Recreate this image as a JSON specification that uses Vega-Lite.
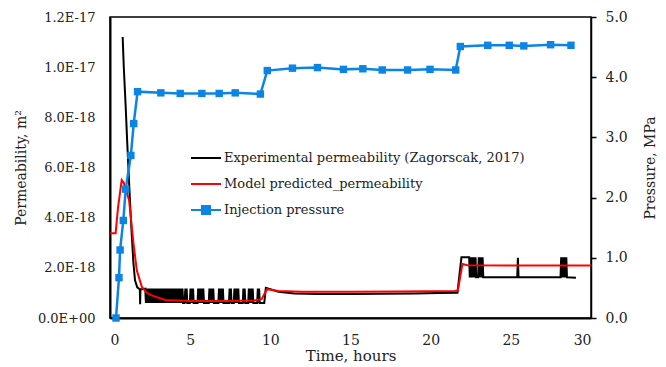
{
  "$schema": "https://vega.github.io/schema/vega-lite/v6.json",
  "width": 481,
  "height": 301,
  "autosize": {"type": "none"},
  "padding": {"left": 110, "top": 17, "right": 75, "bottom": 49},
  "background": "white",
  "config": {
    "font": "DejaVu Serif",
    "view": {"stroke": "#000000", "strokeWidth": 1.5},
    "axis": {
      "grid": false,
      "labelFont": "DejaVu Serif",
      "titleFont": "DejaVu Serif",
      "titleFontWeight": "normal",
      "labelColor": "#222222",
      "titleColor": "#222222",
      "domainColor": "#000000"
    }
  },
  "datasets": {
    "experimental": [
      {"t": 0.79, "k": 1.12e-17}, {"t": 0.86, "k": 1.0e-17}, {"t": 0.98, "k": 8.4e-18}, {"t": 1.06, "k": 7.2e-18},
      {"t": 1.14, "k": 6.1e-18}, {"t": 1.25, "k": 4.6e-18}, {"t": 1.35, "k": 3.4e-18}, {"t": 1.46, "k": 2.2e-18},
      {"t": 1.56, "k": 1.5e-18}, {"t": 1.7, "k": 1.22e-18}, {"t": 1.8, "k": 1.17e-18}, {"t": 1.86, "k": 1.15e-18},
      {"t": 1.88, "k": 5.5e-19}, {"t": 1.9, "k": 1.15e-18}, {"t": 2.0, "k": 1.15e-18}, {"t": 2.1, "k": 1.16e-18},
      {"t": 2.2, "k": 1.17e-18}, {"t": 2.24, "k": 6.0e-19}, {"t": 2.28, "k": 1.17e-18}, {"t": 2.32, "k": 6.0e-19},
      {"t": 2.36, "k": 1.17e-18}, {"t": 2.4, "k": 6.0e-19}, {"t": 2.44, "k": 1.17e-18}, {"t": 2.48, "k": 6.0e-19},
      {"t": 2.52, "k": 1.17e-18}, {"t": 2.56, "k": 6.0e-19}, {"t": 2.6, "k": 1.17e-18}, {"t": 2.64, "k": 6.0e-19},
      {"t": 2.68, "k": 1.17e-18}, {"t": 2.72, "k": 6.0e-19}, {"t": 2.76, "k": 1.17e-18}, {"t": 2.8, "k": 6.0e-19},
      {"t": 2.84, "k": 1.17e-18}, {"t": 2.88, "k": 6.0e-19}, {"t": 2.92, "k": 1.17e-18}, {"t": 2.96, "k": 6.0e-19},
      {"t": 3.0, "k": 1.17e-18}, {"t": 3.04, "k": 6.0e-19}, {"t": 3.08, "k": 1.17e-18}, {"t": 3.12, "k": 6.0e-19},
      {"t": 3.16, "k": 1.17e-18}, {"t": 3.2, "k": 6.0e-19}, {"t": 3.24, "k": 1.17e-18}, {"t": 3.28, "k": 6.0e-19},
      {"t": 3.32, "k": 1.17e-18}, {"t": 3.36, "k": 6.0e-19}, {"t": 3.4, "k": 1.17e-18}, {"t": 3.44, "k": 6.0e-19},
      {"t": 3.48, "k": 1.17e-18}, {"t": 3.52, "k": 6.0e-19}, {"t": 3.56, "k": 1.17e-18}, {"t": 3.6, "k": 6.0e-19},
      {"t": 3.64, "k": 1.17e-18}, {"t": 3.68, "k": 6.0e-19}, {"t": 3.72, "k": 1.17e-18}, {"t": 3.76, "k": 6.0e-19},
      {"t": 3.8, "k": 1.17e-18}, {"t": 3.84, "k": 6.0e-19}, {"t": 3.88, "k": 1.17e-18}, {"t": 3.92, "k": 6.0e-19},
      {"t": 3.96, "k": 1.17e-18}, {"t": 4.0, "k": 6.0e-19}, {"t": 4.04, "k": 1.17e-18}, {"t": 4.08, "k": 6.0e-19},
      {"t": 4.12, "k": 1.17e-18}, {"t": 4.16, "k": 6.0e-19}, {"t": 4.2, "k": 1.17e-18}, {"t": 4.24, "k": 6.0e-19},
      {"t": 4.28, "k": 1.17e-18}, {"t": 4.32, "k": 6.0e-19}, {"t": 4.36, "k": 1.17e-18}, {"t": 4.4, "k": 6.0e-19},
      {"t": 4.44, "k": 1.17e-18}, {"t": 4.48, "k": 6.0e-19}, {"t": 4.52, "k": 1.17e-18}, {"t": 4.56, "k": 6.0e-19},
      {"t": 4.65, "k": 6.0e-19}, {"t": 4.7, "k": 1.17e-18}, {"t": 4.74, "k": 6.0e-19}, {"t": 4.78, "k": 1.17e-18},
      {"t": 4.82, "k": 6.0e-19}, {"t": 4.98, "k": 6.0e-19}, {"t": 5.02, "k": 1.17e-18}, {"t": 5.06, "k": 6.0e-19},
      {"t": 5.1, "k": 1.17e-18}, {"t": 5.14, "k": 6.0e-19}, {"t": 5.18, "k": 1.17e-18}, {"t": 5.22, "k": 6.0e-19},
      {"t": 5.46, "k": 6.0e-19}, {"t": 5.5, "k": 1.17e-18}, {"t": 5.54, "k": 6.0e-19}, {"t": 5.58, "k": 1.17e-18},
      {"t": 5.62, "k": 6.0e-19}, {"t": 5.66, "k": 1.17e-18}, {"t": 5.7, "k": 6.0e-19}, {"t": 5.74, "k": 1.17e-18},
      {"t": 5.78, "k": 6.0e-19}, {"t": 5.82, "k": 1.17e-18}, {"t": 5.86, "k": 6.0e-19}, {"t": 6.16, "k": 6.0e-19},
      {"t": 6.2, "k": 1.17e-18}, {"t": 6.24, "k": 6.0e-19}, {"t": 6.28, "k": 1.17e-18}, {"t": 6.32, "k": 6.0e-19},
      {"t": 6.36, "k": 1.17e-18}, {"t": 6.4, "k": 6.0e-19}, {"t": 6.44, "k": 1.17e-18}, {"t": 6.48, "k": 6.0e-19},
      {"t": 6.76, "k": 6.0e-19}, {"t": 6.8, "k": 1.17e-18}, {"t": 6.84, "k": 6.0e-19}, {"t": 6.88, "k": 1.17e-18},
      {"t": 6.92, "k": 6.0e-19}, {"t": 6.96, "k": 1.17e-18}, {"t": 7.0, "k": 6.0e-19}, {"t": 7.04, "k": 1.17e-18},
      {"t": 7.08, "k": 6.0e-19}, {"t": 7.42, "k": 6.0e-19}, {"t": 7.46, "k": 1.17e-18}, {"t": 7.5, "k": 6.0e-19},
      {"t": 7.54, "k": 1.17e-18}, {"t": 7.58, "k": 6.0e-19}, {"t": 7.72, "k": 6.0e-19}, {"t": 7.76, "k": 1.17e-18},
      {"t": 7.8, "k": 6.0e-19}, {"t": 7.84, "k": 1.17e-18}, {"t": 7.88, "k": 6.0e-19}, {"t": 7.92, "k": 1.17e-18},
      {"t": 7.96, "k": 6.0e-19}, {"t": 8.0, "k": 1.17e-18}, {"t": 8.04, "k": 6.0e-19}, {"t": 8.28, "k": 6.0e-19},
      {"t": 8.32, "k": 1.17e-18}, {"t": 8.36, "k": 6.0e-19}, {"t": 8.4, "k": 1.17e-18}, {"t": 8.44, "k": 6.0e-19},
      {"t": 8.62, "k": 6.0e-19}, {"t": 8.66, "k": 1.17e-18}, {"t": 8.7, "k": 6.0e-19}, {"t": 8.74, "k": 1.17e-18},
      {"t": 8.78, "k": 6.0e-19}, {"t": 8.82, "k": 1.17e-18}, {"t": 8.86, "k": 6.0e-19}, {"t": 8.9, "k": 1.17e-18},
      {"t": 8.94, "k": 6.0e-19}, {"t": 9.18, "k": 6.0e-19}, {"t": 9.22, "k": 1.17e-18}, {"t": 9.26, "k": 6.0e-19},
      {"t": 9.3, "k": 1.17e-18}, {"t": 9.34, "k": 6.0e-19}, {"t": 9.62, "k": 6.0e-19}, {"t": 9.72, "k": 1.2e-18},
      {"t": 10.0, "k": 1.15e-18}, {"t": 10.5, "k": 1.05e-18}, {"t": 11.5, "k": 9.8e-19}, {"t": 13.0, "k": 9.6e-19},
      {"t": 15.0, "k": 9.6e-19}, {"t": 17.0, "k": 9.7e-19}, {"t": 19.0, "k": 9.8e-19}, {"t": 20.5, "k": 1.0e-18},
      {"t": 21.67, "k": 1.01e-18}, {"t": 21.92, "k": 2.42e-18}, {"t": 22.4, "k": 2.42e-18}, {"t": 22.44, "k": 1.62e-18},
      {"t": 22.48, "k": 2.42e-18}, {"t": 22.52, "k": 1.62e-18}, {"t": 22.56, "k": 2.42e-18}, {"t": 22.6, "k": 1.62e-18},
      {"t": 22.64, "k": 2.42e-18}, {"t": 22.68, "k": 1.62e-18}, {"t": 22.72, "k": 2.42e-18}, {"t": 22.76, "k": 1.62e-18},
      {"t": 22.8, "k": 2.42e-18}, {"t": 22.84, "k": 1.62e-18}, {"t": 22.96, "k": 1.62e-18}, {"t": 23.0, "k": 2.42e-18},
      {"t": 23.04, "k": 1.62e-18}, {"t": 23.08, "k": 2.42e-18}, {"t": 23.12, "k": 1.62e-18}, {"t": 23.16, "k": 2.42e-18},
      {"t": 23.2, "k": 1.62e-18}, {"t": 23.24, "k": 2.42e-18}, {"t": 23.28, "k": 1.62e-18}, {"t": 25.4, "k": 1.62e-18},
      {"t": 25.44, "k": 2.4e-18}, {"t": 25.48, "k": 1.62e-18}, {"t": 28.1, "k": 1.62e-18}, {"t": 28.14, "k": 2.42e-18},
      {"t": 28.18, "k": 1.62e-18}, {"t": 28.22, "k": 2.42e-18}, {"t": 28.26, "k": 1.62e-18}, {"t": 28.3, "k": 2.42e-18},
      {"t": 28.34, "k": 1.62e-18}, {"t": 28.38, "k": 2.42e-18}, {"t": 28.42, "k": 1.62e-18}, {"t": 28.46, "k": 2.42e-18},
      {"t": 28.5, "k": 1.62e-18}, {"t": 29.06, "k": 1.6e-18}
    ],
    "model": [
      {"t": 0.0, "k": 3.38e-18}, {"t": 0.35, "k": 3.38e-18}, {"t": 0.5, "k": 4.4e-18}, {"t": 0.73, "k": 5.5e-18},
      {"t": 0.85, "k": 5.4e-18}, {"t": 1.0, "k": 5.1e-18}, {"t": 1.19, "k": 4.7e-18}, {"t": 1.46, "k": 3.0e-18},
      {"t": 1.67, "k": 1.9e-18}, {"t": 1.98, "k": 1.25e-18}, {"t": 2.3, "k": 1.0e-18}, {"t": 2.6, "k": 9.0e-19},
      {"t": 3.44, "k": 7.2e-19}, {"t": 5.0, "k": 6.8e-19}, {"t": 7.0, "k": 6.8e-19}, {"t": 9.0, "k": 7.0e-19},
      {"t": 9.45, "k": 7.5e-19}, {"t": 9.8, "k": 1.15e-18}, {"t": 10.5, "k": 1.08e-18}, {"t": 12.0, "k": 1.05e-18},
      {"t": 15.0, "k": 1.05e-18}, {"t": 18.0, "k": 1.06e-18}, {"t": 21.5, "k": 1.08e-18}, {"t": 21.7, "k": 1.1e-18},
      {"t": 21.98, "k": 2.15e-18}, {"t": 22.3, "k": 2.1e-18}, {"t": 25.0, "k": 2.09e-18}, {"t": 30.0, "k": 2.09e-18}
    ],
    "pressure": [
      {"t": 0.375, "p": 0.0}, {"t": 0.56, "p": 0.67}, {"t": 0.63, "p": 1.13}, {"t": 0.83, "p": 1.62},
      {"t": 0.98, "p": 2.14}, {"t": 1.3, "p": 2.7}, {"t": 1.48, "p": 3.23}, {"t": 1.72, "p": 3.76},
      {"t": 3.17, "p": 3.74}, {"t": 4.38, "p": 3.73}, {"t": 5.73, "p": 3.73}, {"t": 6.81, "p": 3.73},
      {"t": 7.81, "p": 3.74}, {"t": 9.38, "p": 3.72}, {"t": 9.81, "p": 4.11}, {"t": 11.38, "p": 4.15},
      {"t": 12.94, "p": 4.16}, {"t": 14.56, "p": 4.13}, {"t": 15.77, "p": 4.14}, {"t": 16.98, "p": 4.12},
      {"t": 18.56, "p": 4.12}, {"t": 19.96, "p": 4.13}, {"t": 21.56, "p": 4.12}, {"t": 21.85, "p": 4.51},
      {"t": 23.56, "p": 4.53}, {"t": 24.9, "p": 4.53}, {"t": 25.81, "p": 4.52}, {"t": 27.48, "p": 4.54},
      {"t": 28.75, "p": 4.53}
    ]
  },
  "encoding": {
    "x": {
      "field": "t",
      "type": "quantitative",
      "scale": {"domain": [0, 30], "nice": false},
      "axis": {
        "title": "Time, hours",
        "values": [0, 5, 10, 15, 20, 25, 30],
        "ticks": false,
        "domainWidth": 2,
        "labelFontSize": 14,
        "labelPadding": 15,
        "titleFontSize": 15,
        "titlePadding": 1
      }
    }
  },
  "layer": [
    {
      "layer": [
        {
          "data": {"name": "experimental"},
          "mark": {"type": "line", "strokeWidth": 2},
          "encoding": {
            "y": {
              "field": "k",
              "type": "quantitative",
              "scale": {"domain": [0, 1.2e-17], "nice": false},
              "axis": {
                "orient": "left",
                "title": "Permeability, m²",
                "values": [0, 2e-18, 4e-18, 6e-18, 8e-18, 1e-17, 1.2e-17],
                "labelExpr": "datum.value == 0 ? '0.0E+00' : upper(format(datum.value, '.1e'))",
                "ticks": false,
                "domainWidth": 2,
                "labelFontSize": 13,
                "labelPadding": 15,
                "titleFontSize": 14,
                "titlePadding": 9
              }
            },
            "color": {
              "datum": "Experimental permeability (Zagorscak, 2017)",
              "type": "nominal",
              "scale": {
                "domain": ["Experimental permeability (Zagorscak, 2017)", "Model predicted_permeability", "Injection pressure"],
                "range": ["#000000", "#ff0000", "#0b84e3"]
              },
              "legend": {
                "title": null,
                "orient": "none",
                "legendX": 80,
                "legendY": 125,
                "padding": 0,
                "symbolType": "stroke",
                "symbolSize": 900,
                "symbolStrokeWidth": 2,
                "labelFont": "DejaVu Serif",
                "labelFontSize": 13,
                "labelLimit": 0,
                "labelColor": "#222222",
                "labelOffset": 2,
                "rowPadding": 3,
                "encode": {
                  "symbols": {
                    "update": {
                      "shape": {"signal": "datum.label === 'Injection pressure' ? 'M-1,0H1M-0.27,-0.27H0.27V0.27H-0.27Z' : 'stroke'"},
                      "fill": {"signal": "datum.label === 'Injection pressure' ? '#0b84e3' : 'transparent'"}
                    }
                  }
                }
              }
            }
          }
        },
        {
          "data": {"name": "model"},
          "mark": {"type": "line", "strokeWidth": 2},
          "encoding": {
            "y": {"field": "k", "type": "quantitative"},
            "color": {"datum": "Model predicted_permeability", "type": "nominal"}
          }
        }
      ]
    },
    {
      "layer": [
        {
          "data": {"name": "pressure"},
          "mark": {"type": "line", "strokeWidth": 2.5},
          "encoding": {
            "y": {
              "field": "p",
              "type": "quantitative",
              "scale": {"domain": [0, 5], "nice": false},
              "axis": {
                "orient": "right",
                "title": "Pressure, MPa",
                "values": [0, 0.5, 1, 1.5, 2, 2.5, 3, 3.5, 4, 4.5, 5],
                "format": ".1f",
                "ticks": true,
                "tickSize": 5,
                "tickWidth": 1.5,
                "tickColor": "#000000",
                "domainWidth": 1.5,
                "labelFontSize": 14,
                "labelPadding": 9,
                "titleFontSize": 14,
                "titleAngle": 270,
                "titlePadding": 30
              }
            },
            "color": {"datum": "Injection pressure", "type": "nominal"}
          }
        },
        {
          "data": {"name": "pressure"},
          "mark": {"type": "point", "shape": "square", "filled": true, "size": 55, "opacity": 1},
          "encoding": {
            "y": {"field": "p", "type": "quantitative"},
            "color": {"value": "#0b84e3"}
          }
        }
      ]
    }
  ],
  "resolve": {"scale": {"y": "independent"}}
}
